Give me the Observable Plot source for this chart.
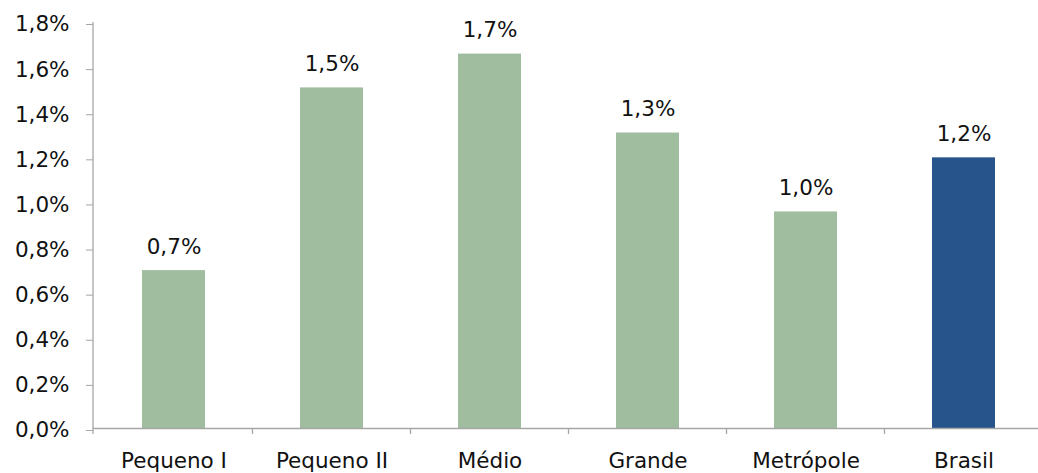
<!DOCTYPE html>
<html>
<head>
<meta charset="utf-8">
<script src="https://cdn.jsdelivr.net/npm/d3@7"></script>
<script src="https://cdn.jsdelivr.net/npm/@observablehq/plot@0.6"></script>
<style>
  html, body { margin: 0; padding: 0; background: #fff; }
  #chart svg { display: block; }
</style>
</head>
<body>
<div id="chart"></div>
<script>
// Porte dos municípios e variação (%)
const categorias = ["Pequeno I", "Pequeno II", "Médio", "Grande", "Metrópole", "Brasil"];
const valores = [0.70, 1.51, 1.66, 1.31, 0.96, 1.20];
const destaque = [false, false, false, false, false, true];
const yTicks = [0, 0.2, 0.4, 0.6, 0.8, 1.0, 1.2, 1.4, 1.6, 1.8];

const dados = categorias.map((c, i) => ({ categoria: c, valor: valores[i], brasil: destaque[i] }));

const VERDE = "#a0bda0";
const AZUL = "#27548a";
const CINZA = "#a6a6a6";
const FONTE = "'DejaVu Sans', sans-serif";
const TAM = 21.5;
const pct = v => v.toFixed(1).replace(".", ",") + "%";

const W = 1038, H = 473;
const margemEsq = 93, margemSup = 22, base = 428;

const chart = Plot.plot({
  width: W,
  height: H,
  marginLeft: margemEsq,
  marginRight: 0,
  marginTop: margemSup,
  marginBottom: H - base,
  style: { fontFamily: FONTE, fontSize: TAM + "px", color: "#111", background: "#fff" },
  x: { domain: categorias, range: [margemEsq, 1045], paddingInner: 0.6, paddingOuter: 0.3, axis: null, label: null },
  y: { domain: [0, 1.8], range: [base, margemSup], axis: null, label: null },
  marks: [
    Plot.barY(dados, { x: "categoria", y: "valor", fill: d => d.brasil ? AZUL : VERDE }),
    Plot.text(dados, {
      x: "categoria", y: "valor", text: d => pct(d.valor),
      lineAnchor: "bottom", dy: -17, fontSize: TAM, fill: "#111"
    }),
    Plot.axisY({
      ticks: yTicks, tickFormat: pct, tickSize: 7, tickPadding: 17, label: null,
      stroke: CINZA, fill: "#111", fontSize: TAM, dy: 2
    }),
    Plot.axisX({
      tickSize: 0, tickPadding: 24, label: null, fill: "#111", fontSize: TAM
    }),
    Plot.ruleY([0], { stroke: CINZA, strokeWidth: 1.3 })
  ]
});

// Eixo vertical e separadores entre as categorias
const x = chart.scale("x");
const y = chart.scale("y");
const svg = d3.select(chart);
const passo = x.step;
const limites = categorias.map(c => x.apply(c) + x.bandwidth / 2 - passo / 2);
const g = svg.append("g").attr("stroke", CINZA).attr("stroke-width", 1.3);
g.append("line")
  .attr("x1", margemEsq).attr("x2", margemEsq)
  .attr("y1", y.apply(1.8)).attr("y2", y.apply(0) + 6);
g.selectAll("line.sep")
  .data(limites.slice(1))
  .join("line")
  .attr("class", "sep")
  .attr("x1", d => d).attr("x2", d => d)
  .attr("y1", y.apply(0)).attr("y2", y.apply(0) + 6);

document.getElementById("chart").append(chart);
</script>
</body>
</html>
